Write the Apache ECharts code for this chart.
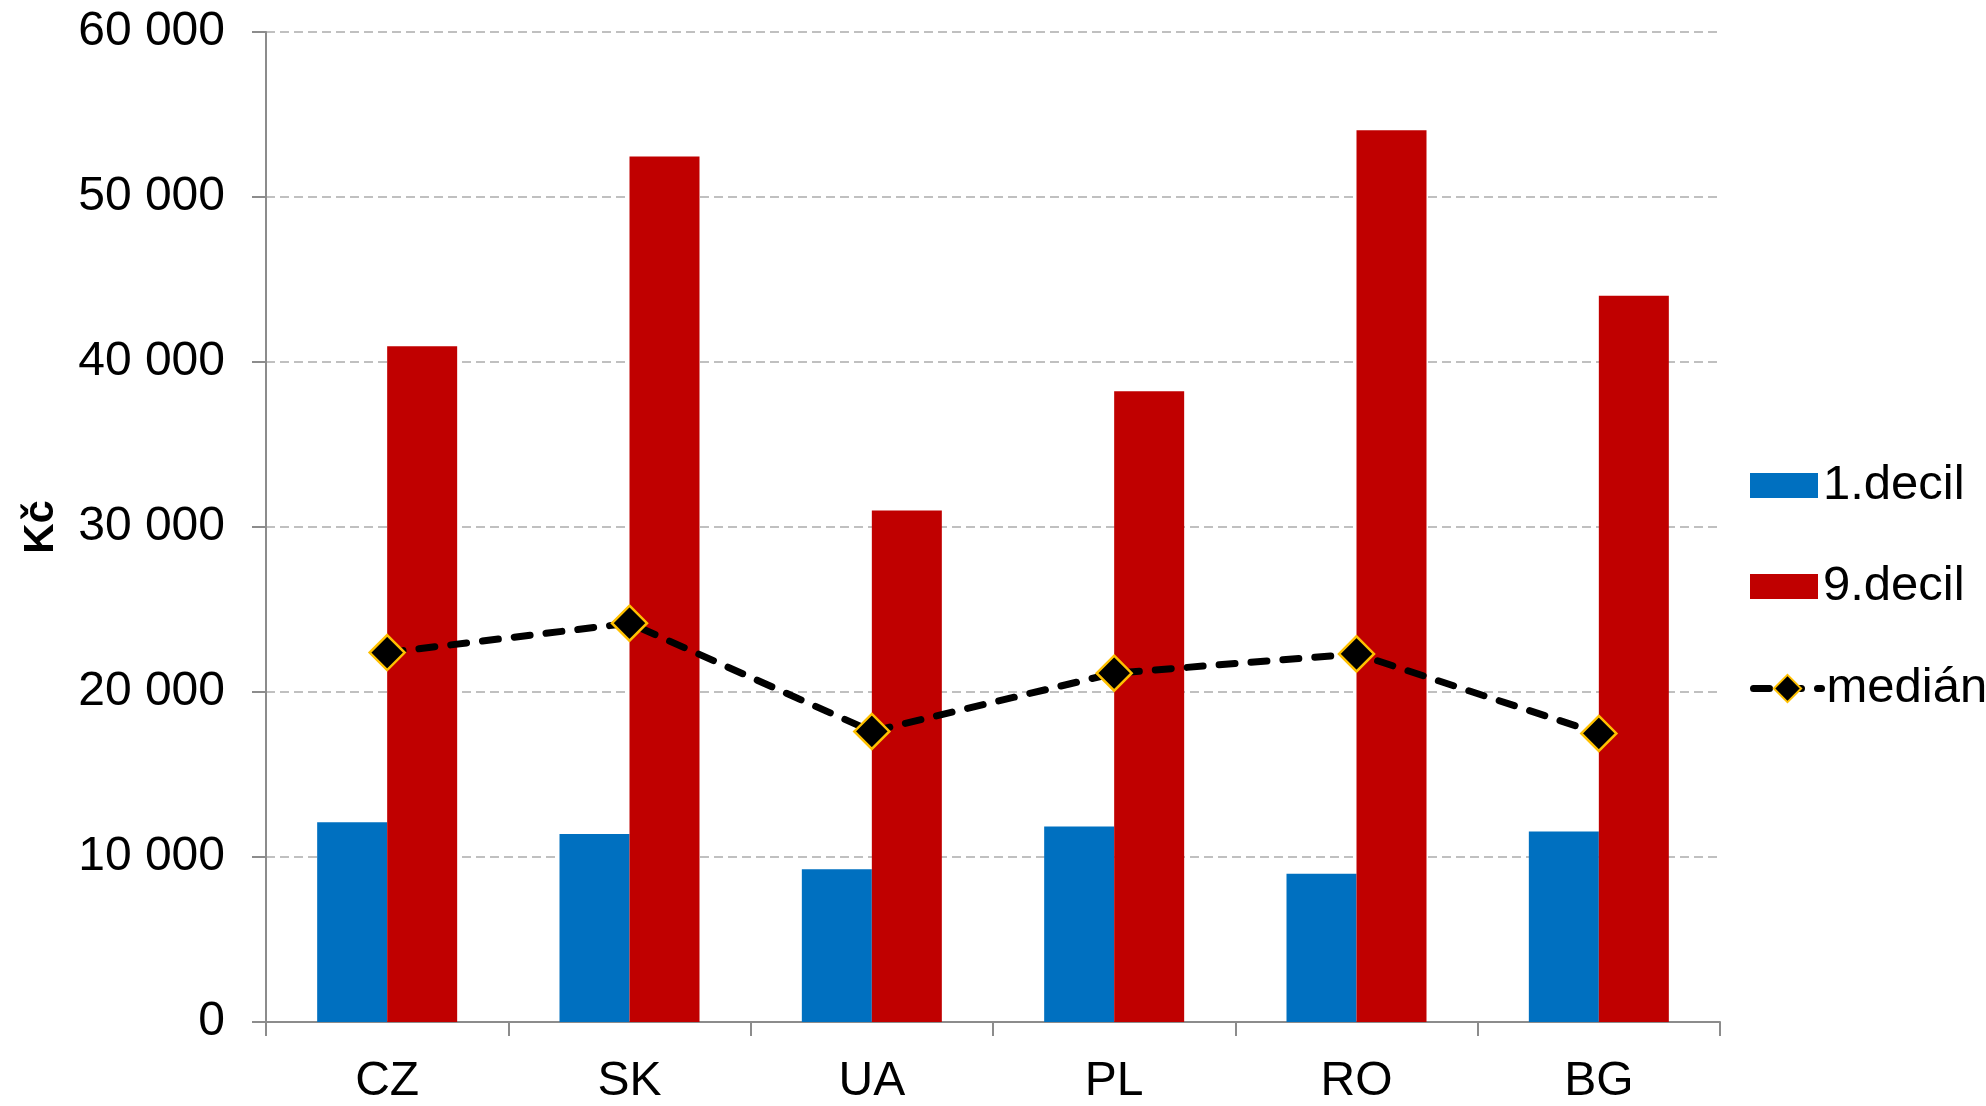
<!DOCTYPE html>
<html>
<head>
<meta charset="utf-8">
<script src="https://cdn.jsdelivr.net/npm/echarts@6/dist/echarts.min.js"></script>
<style>
html,body{margin:0;padding:0;background:#fff;}
#chart{width:1986px;height:1106px;}
</style>
</head>
<body>
<div id="chart"></div>
<script>
const categories = ['CZ', 'SK', 'UA', 'PL', 'RO', 'BG'];
const decil1 = [12100, 11400, 9260, 11850, 8980, 11550];
const decil9 = [40960, 52450, 31000, 38230, 54050, 44020];
const median = [22390, 24170, 17610, 21140, 22310, 17490];
const yTicks = { min: 0, max: 60000, interval: 10000 };
const seriesNames = ['1.decil', '9.decil', 'medián'];
const yName = 'Kč';

const FONT = '"Liberation Sans", Arial, sans-serif';
const legendText = { fontFamily: FONT, fontSize: 49, color: '#000' };
const chart = echarts.init(document.getElementById('chart'));
chart.setOption({
  animation: false,
  backgroundColor: '#ffffff',
  grid: { left: 266, right: 266, top: 32, bottom: 77, containLabel: false },
  legend: [
    {
      orient: 'vertical',
      left: 1745,
      top: 456,
      icon: 'rect',
      itemWidth: 68,
      itemHeight: 25,
      itemGap: 52,
      textStyle: legendText,
      data: [seriesNames[0], seriesNames[1]]
    },
    {
      orient: 'vertical',
      left: 1745,
      top: 659,
      itemWidth: 68,
      itemHeight: 34,
      textStyle: legendText,
      lineStyle: { width: 7, type: [16, 16], cap: 'round', color: '#000' },
      data: [seriesNames[2]]
    }
  ],
  xAxis: {
    type: 'category',
    data: categories,
    axisLine: { lineStyle: { color: '#8c8c8c', width: 2 } },
    axisTick: { show: true, length: 14, lineStyle: { color: '#8c8c8c', width: 2 } },
    axisLabel: { fontFamily: FONT, fontSize: 48, color: '#000', margin: 36 }
  },
  yAxis: {
    type: 'value',
    min: yTicks.min, max: yTicks.max, interval: yTicks.interval,
    name: yName,
    nameLocation: 'middle',
    nameGap: 204,
    nameTextStyle: { fontFamily: FONT, fontSize: 42, fontWeight: 'bold', color: '#000' },
    axisLine: { show: true, lineStyle: { color: '#8c8c8c', width: 2 } },
    axisTick: { show: true, length: 14, lineStyle: { color: '#8c8c8c', width: 2 } },
    axisLabel: {
      fontFamily: FONT, fontSize: 48, color: '#000', margin: 41,
      padding: [7, 0, 0, 0],
      formatter: v => String(v).replace(/\B(?=(\d{3})+(?!\d))/g, ' ')
    },
    splitLine: { show: true, lineStyle: { color: '#c0c0c0', width: 2, type: [9, 5] } }
  },
  series: [
    {
      name: seriesNames[0], type: 'bar', data: decil1,
      barWidth: 70, barGap: '0%',
      itemStyle: { color: '#0070C0' }
    },
    {
      name: seriesNames[1], type: 'bar', data: decil9,
      barWidth: 70, barGap: '0%',
      itemStyle: { color: '#C00000' }
    },
    {
      name: seriesNames[2], type: 'line', data: median, z: 10,
      symbol: 'diamond', symbolSize: 35,
      lineStyle: { color: '#000', width: 7, type: [16, 16], cap: 'round' },
      itemStyle: { color: '#000', borderColor: '#FFC000', borderWidth: 2.5 }
    }
  ]
});
</script>
</body>
</html>
